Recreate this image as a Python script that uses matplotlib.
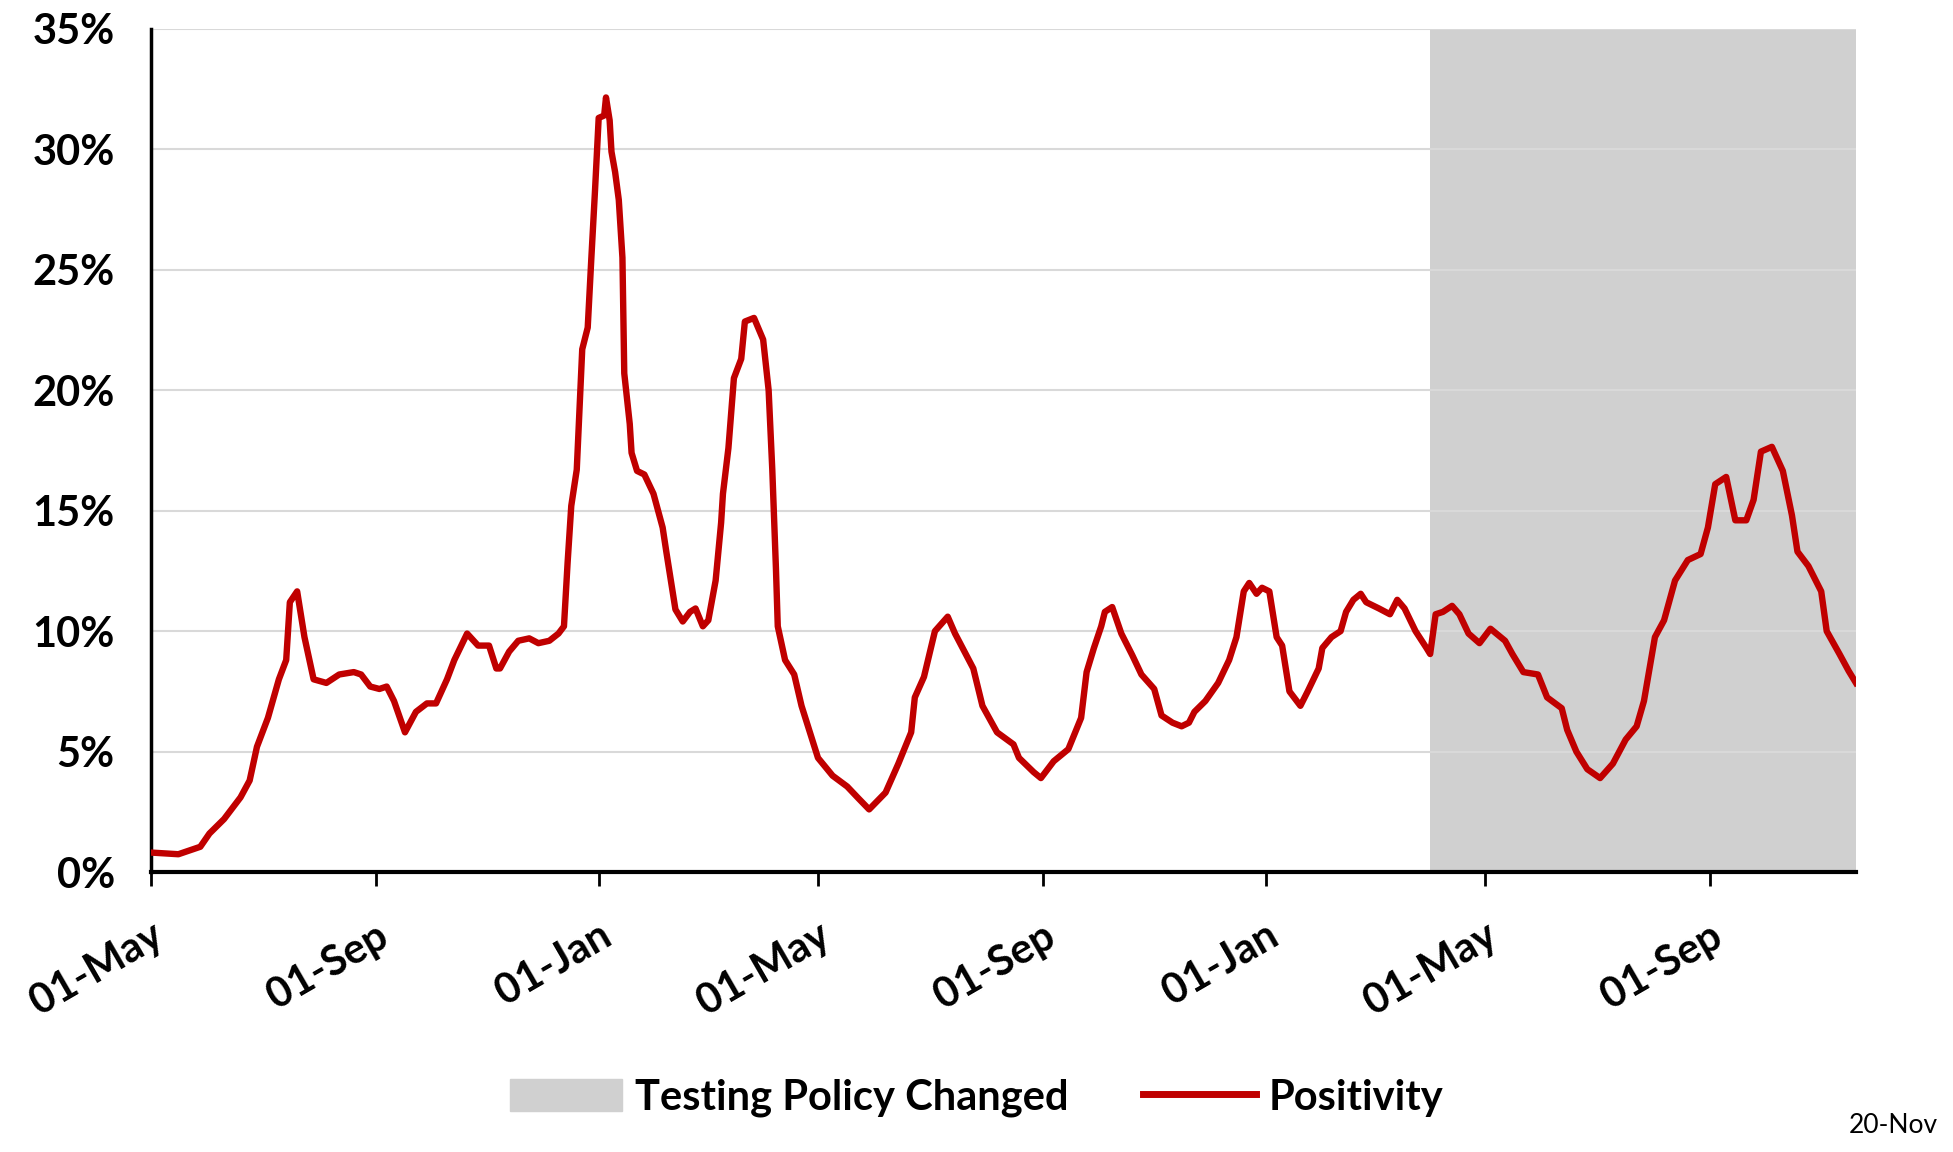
import pandas as pd
import matplotlib
matplotlib.use("Agg")
import matplotlib.pyplot as plt
import matplotlib.dates as mdates
from matplotlib.ticker import FuncFormatter, MultipleLocator
from matplotlib.patches import Patch
from matplotlib.lines import Line2D

plt.rcParams['font.family'] = ['Lato', 'DejaVu Sans']

START = "2020-05-01"
# days since START
days = [0, 15, 27, 32, 40, 49, 54, 58, 64, 70, 74, 76, 80, 84, 89, 96, 103, 111, 115, 120,
        125, 129, 133, 139, 145, 151, 156, 162, 166, 173, 179, 185, 189, 191, 196, 201, 207, 212, 218, 223,
        226, 228, 230, 233, 235, 236, 239, 241, 243, 245, 248, 249, 251, 252, 254, 256, 258, 259, 262, 263,
        266, 270, 275, 280, 282, 287, 291, 295, 298, 302, 305, 309, 312, 313, 316, 319, 323, 325, 330, 335,
        338, 340, 342, 343, 347, 352, 356, 361, 365, 373, 381, 387, 393, 402, 409, 416, 418, 423, 429, 436,
        440, 450, 455, 463, 472, 475, 483, 487, 494, 502, 509, 512, 516, 520, 522, 526, 531, 537, 542, 549,
        553, 559, 564, 568, 571, 577, 584, 590, 594, 598, 601, 605, 608, 612, 616, 619, 623, 629, 633, 639,
        641, 646, 651, 654, 658, 662, 665, 672, 678, 682, 686, 692, 698, 700, 703, 707, 712, 716, 721, 727,
        733, 741, 745, 751, 759, 764, 772, 775, 780, 786, 793, 800, 807, 813, 817, 823, 828, 834, 841, 848,
        852, 856, 862, 867, 873, 877, 881, 887, 893, 898, 901, 907, 914, 917, 924, 929, 933]
positivity = [0.81, 0.74, 1.05, 1.6, 2.2, 3.1, 3.8, 5.2, 6.4, 8.0, 8.8, 11.2, 11.65, 9.75, 8.0, 7.85, 8.2, 8.3, 8.2, 7.7,
              7.6, 7.7, 7.1, 5.8, 6.65, 7.0, 7.0, 8.0, 8.8, 9.9, 9.4, 9.4, 8.45, 8.45, 9.15, 9.6, 9.7, 9.5, 9.6, 9.9,
              10.2, 12.85, 15.2, 16.7, 20.0, 21.7, 22.6, 25.5, 28.3, 31.3, 31.4, 32.15, 31.2, 29.9, 29.05, 27.9, 25.5, 20.7, 18.6, 17.4,
              16.65, 16.5, 15.7, 14.3, 13.3, 10.9, 10.4, 10.8, 10.94, 10.2, 10.45, 12.1, 14.5, 15.7, 17.6, 20.5, 21.3, 22.85, 23.0, 22.1,
              20.0, 16.7, 12.6, 10.2, 8.8, 8.2, 6.9, 5.7, 4.74, 4.0, 3.55, 3.07, 2.6, 3.3, 4.5, 5.8, 7.25, 8.1, 10.0, 10.6,
              9.9, 8.45, 6.9, 5.8, 5.3, 4.74, 4.15, 3.9, 4.6, 5.1, 6.4, 8.3, 9.3, 10.2, 10.8, 11.0, 9.9, 9.0, 8.2, 7.6,
              6.5, 6.2, 6.05, 6.2, 6.65, 7.1, 7.85, 8.8, 9.75, 11.65, 12.0, 11.55, 11.8, 11.65, 9.75, 9.4, 7.5, 6.9, 7.5, 8.45,
              9.3, 9.75, 10.0, 10.8, 11.3, 11.55, 11.2, 10.94, 10.7, 11.3, 10.94, 10.0, 9.3, 9.05, 10.7, 10.8, 11.05, 10.7, 9.9, 9.5,
              10.1, 9.6, 9.05, 8.3, 8.2, 7.25, 6.8, 5.9, 5.0, 4.27, 3.9, 4.5, 5.5, 6.05, 7.1, 9.75, 10.45, 12.1, 12.95, 13.2,
              14.3, 16.1, 16.4, 14.6, 14.6, 15.45, 17.45, 17.65, 16.65, 14.8, 13.3, 12.7, 11.65, 10.0, 9.05, 8.35, 7.85]
policy_start = "2022-04-01"
policy_end = "2022-11-20"
tick_dates = ["2020-05-01", "2020-09-01", "2021-01-01", "2021-05-01", "2021-09-01",
              "2022-01-01", "2022-05-01", "2022-09-01"]

dates = pd.Timestamp(START) + pd.to_timedelta(days, unit="D")

fig = plt.figure(figsize=(19.53, 11.52), dpi=100)
ax = fig.add_axes([0.0773, 0.243, 0.873, 0.732])

ax.axvspan(pd.Timestamp(policy_start), pd.Timestamp(policy_end), color="#d0d0d0", lw=0, zorder=0)
ax.plot(dates, positivity, color="#c00000", lw=4.6, zorder=3, solid_joinstyle="round")

ax.set_ylim(0, 35)
ax.set_xlim(pd.Timestamp(START), pd.Timestamp(policy_end))
ax.yaxis.set_major_locator(MultipleLocator(5))
ax.yaxis.set_major_formatter(FuncFormatter(lambda v, p: f"{v:.0f}%"))
ax.grid(axis="y", color="#d9d9d9", lw=1.5, zorder=1)
ax.set_axisbelow(True)

ax.set_xticks(pd.to_datetime(tick_dates))
ax.xaxis.set_major_formatter(mdates.DateFormatter("%d-%b"))

for s in ["top", "right"]:
    ax.spines[s].set_visible(False)
ax.spines["left"].set_linewidth(2.5)
ax.spines["bottom"].set_linewidth(3)

ax.tick_params(axis="y", length=0, labelsize=30, pad=26)
ax.tick_params(axis="x", length=10, width=2, direction="out", labelsize=30, pad=22)
for lab in ax.get_yticklabels():
    lab.set_fontweight("bold")
for lab in ax.get_xticklabels():
    lab.set_fontweight("bold")
    lab.set_rotation(30)
    lab.set_ha("right")
    lab.set_rotation_mode("anchor")

handles = [Patch(color="#d0d0d0", label="Testing Policy Changed"),
           Line2D([], [], color="#c00000", lw=5, label="Positivity")]
fig.legend(handles=handles, loc="center", bbox_to_anchor=(0.5, 0.047), ncol=2, frameon=False,
           prop={"size": 30, "weight": "bold"}, handlelength=2.7, handleheight=0.8,
           handletextpad=0.3, columnspacing=1.8)

fig.text(0.992, 0.012, "20-Nov", ha="right", va="bottom", fontsize=19)

fig.savefig("out.png", dpi=100)
